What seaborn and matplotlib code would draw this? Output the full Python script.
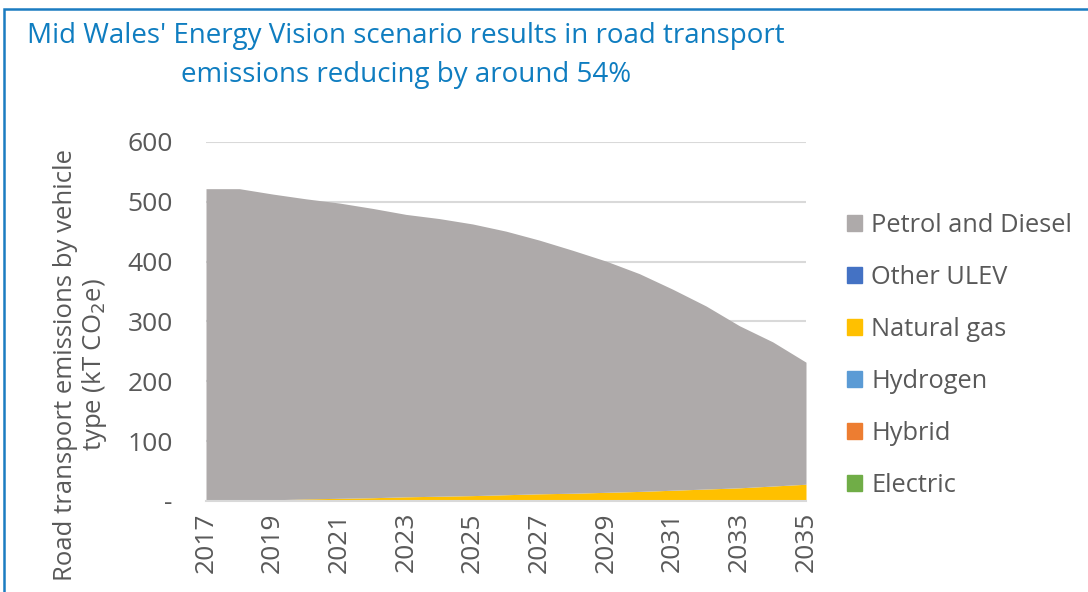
import matplotlib
matplotlib.use("Agg")
import matplotlib.pyplot as plt
import matplotlib.patches as mpatches
import numpy as np
import seaborn as sns

years = list(range(2017, 2036))

# kT CO2e
electric = [0, 0, 0, 0.1, 0.1, 0.2, 0.3, 0.4, 0.5, 0.6, 0.7, 0.8, 0.9, 1.0, 1.1, 1.2, 1.3, 1.4, 1.7]
hybrid = [0] * 19
hydrogen = [0] * 19
natural_gas = [0, 1, 2, 3.4, 4.4, 5.3, 6.7, 7.6, 8.5, 9.9, 11.3, 12.2, 13.6, 15, 16.9, 18.8, 20.7, 23.6, 26.3]
other_ulev = [0] * 19
petrol_diesel = [522, 521, 511, 501.5, 493.5, 483.5, 472, 464, 454, 440.5, 424, 406,
                 386.5, 364, 336, 306, 271, 241, 204]

series_names = ["Electric", "Hybrid", "Hydrogen", "Natural gas", "Other ULEV", "Petrol and Diesel"]
series_colors = ["#70AD47", "#ED7D31", "#5B9BD5", "#FFC000", "#4472C4", "#AEAAAA"]
y_ticks = [0, 100, 200, 300, 400, 500, 600]

sns.set_theme(style="white")
plt.rcParams["font.family"] = ["Open Sans", "DejaVu Sans"]

fig = plt.figure(figsize=(10.88, 5.92), dpi=100)
ax = fig.add_axes([206 / 1088, 1 - 501 / 592, 600 / 1088, 359 / 592])

ax.stackplot(years, electric, hybrid, hydrogen, natural_gas, other_ulev, petrol_diesel,
             colors=series_colors, labels=series_names, linewidth=0, zorder=2)

ax.set_xlim(2017, 2035)
ax.set_ylim(0, 600)
ax.set_xticks(years[::2])
ax.set_xticklabels([str(y) for y in years[::2]], rotation=90)
ax.set_yticks(y_ticks)
ax.set_yticklabels(["-" if t == 0 else str(t) for t in y_ticks])
ax.tick_params(axis="both", length=0, labelsize=19, colors="#595959")
ax.tick_params(axis="y", pad=24)
ax.tick_params(axis="x", pad=8)
ax.grid(axis="y", color="#D9D9D9", linewidth=1.5, zorder=0)
ax.grid(axis="x", visible=False)
for side in ["top", "right", "left"]:
    ax.spines[side].set_visible(False)
ax.spines["bottom"].set_color("#D9D9D9")
ax.spines["bottom"].set_linewidth(1.5)

fig.text(81 / 1088, 1 - 365 / 592,
         "Road transport emissions by vehicle\ntype (kT CO$_2$e)",
         rotation=90, ha="center", va="center", fontsize=18.5, color="#595959",
         linespacing=1.05)

title_font = ["Open Sans", "DejaVu Sans"]
fig.text(406 / 1088, 1 - 36 / 592,
         "Mid Wales' Energy Vision scenario results in road transport",
         ha="center", va="center", fontsize=20, color="#0F7DC0", family=title_font)
fig.text(406 / 1088, 1 - 75 / 592,
         "emissions reducing by around 54%",
         ha="center", va="center", fontsize=20, color="#0F7DC0", family=title_font)

handles = [mpatches.Patch(color=c, label=n) for n, c in zip(series_names, series_colors)][::-1]
fig.legend(handles=handles, loc="upper left", bbox_to_anchor=(847 / 1088, 1 - 213 / 592),
           frameon=False, fontsize=18.3, labelcolor="#595959", handlelength=0.6,
           handleheight=0.6, handletextpad=0.35, labelspacing=1.06, borderaxespad=0,
           borderpad=0)

fig.add_artist(mpatches.Rectangle((3.5 / 1088, -0.2), 2, 1.2 - 9 / 592,
                                  transform=fig.transFigure, fill=False,
                                  edgecolor="#1B7CC1", linewidth=1.8))

fig.savefig("out.png", dpi=100)
